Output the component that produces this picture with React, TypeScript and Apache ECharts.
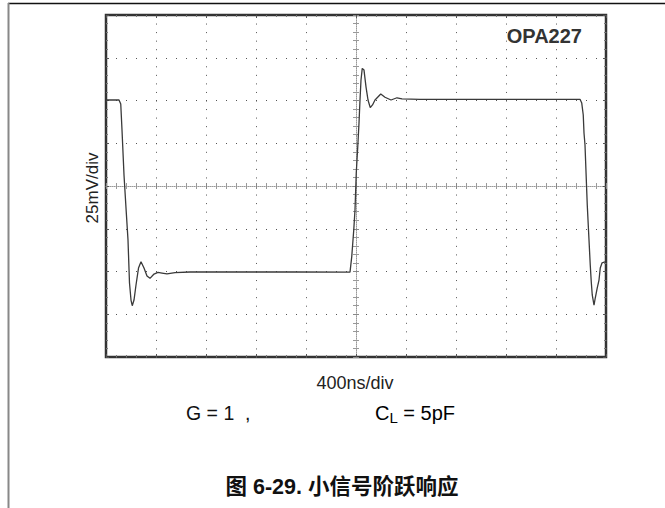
import React, { useEffect, useRef } from "react";
import * as echarts from "echarts";

// time in ns relative to the screen centre (400 ns/div, 10 div)
const timeNs = [
  -2000, -1896, -1882, -1872, -1856, -1840, -1824, -1812, -1800, -1790, -1776, -1760,
  -1740, -1720, -1696, -1672, -1648, -1616, -1584, -1552, -1512, -1448, -1328, -1000,
  -500, -48, -34, -18, -8, 2, 14, 24, 32, 40, 50, 64, 80, 96, 114, 132, 152, 198, 232,
  280, 328, 368, 512, 1000, 1500, 1792, 1806, 1818, 1824, 1832, 1844, 1850, 1858, 1866,
  1874, 1882, 1890, 1904, 1914, 1930, 1944, 1954, 1968, 1992,
];
// output voltage in mV (25 mV/div, 8 div)
const voltageMv = [
  50.3, 50.3, 48, 32.7, 6.4, -12.9, -31.6, -56.7, -66.7, -70, -66.7, -57.9,
  -48, -44.3, -48, -52.6, -54, -51.5, -50.5, -50.9, -51.4, -50.6, -50.3, -50.3,
  -50.3, -50.4, -41.3, -25.7, -14, 7.6, 23, 36.8, 50.3, 62, 68.8, 67.8, 58, 50.3, 45.8,
  47.4, 50.3, 53.8, 51.9, 50.3, 51.6, 50.9, 50.6, 50.6, 50.6, 50.7, 48.5, 41.5, 31,
  24, 0.6, -11, -22.8, -34.5, -46.2, -56, -63.7, -69.6, -65.5, -59.6, -55, -48, -45, -44.4,
];

const xMin = -2000;
const xMax = 2000;
const xStep = 400;
const yMin = -100;
const yMax = 100;
const yStep = 25;

const partLabel = "OPA227";
const yTitle = "25mV/div";
const xTitle = "400ns/div";
const gainText = "G = 1  ,";
const caption = "图 6-29. 小信号阶跃响应";

const FONT = "'Liberation Sans', Arial, sans-serif";

export default function App() {
  const ref = useRef<HTMLDivElement>(null);

  useEffect(() => {
    if (!ref.current) return;
    const chart = echarts.init(ref.current, undefined, { renderer: "svg" });

    const hidden = {
      axisLabel: { show: false },
      splitLine: { show: false },
    };
    const xBase = { type: "value", min: xMin, max: xMax, interval: xStep, ...hidden };
    const yBase = { type: "value", min: yMin, max: yMax, interval: yStep, ...hidden };

    const borderTick = (len: number) => ({
      axisTick: { show: true, inside: true, length: len, lineStyle: { color: "#555", width: 1 } },
      minorTick: { show: true, splitNumber: 5, length: 2, lineStyle: { color: "#777", width: 1 } },
    });
    const centreTick = {
      axisTick: { show: true, inside: false, length: 3, lineStyle: { color: "#888", width: 1 } },
      minorTick: { show: true, splitNumber: 5, length: 3, lineStyle: { color: "#999", width: 1 } },
    };

    const data = timeNs.map((t, i) => [t, voltageMv[i]]);

    chart.setOption({
      animation: false,
      grid: {
        left: 106,
        top: 15,
        width: 500,
        height: 342,
        show: true,
        borderColor: "#333",
        borderWidth: 2.5,
        backgroundColor: "transparent",
      },
      xAxis: [
        {
          ...xBase,
          position: "bottom",
          axisLine: { show: false, onZero: false },
          ...borderTick(3),
          splitLine: { show: true, lineStyle: { color: "#555", width: 1, type: [1, 7.55] } },
        },
        { ...xBase, position: "top", axisLine: { show: false, onZero: false }, ...borderTick(3) },
        {
          ...xBase,
          position: "bottom",
          axisLine: { show: true, onZero: true, onZeroAxisIndex: 0, lineStyle: { color: "#999", width: 1, type: [1, 1] } },
          ...centreTick,
        },
        {
          ...xBase,
          position: "top",
          axisLine: { show: false, onZero: true, onZeroAxisIndex: 0 },
          ...centreTick,
        },
      ],
      yAxis: [
        {
          ...yBase,
          position: "left",
          axisLine: { show: false, onZero: false },
          ...borderTick(3),
          splitLine: { show: true, lineStyle: { color: "#555", width: 1, type: [1, 9] } },
        },
        { ...yBase, position: "right", axisLine: { show: false, onZero: false }, ...borderTick(3) },
        {
          ...yBase,
          position: "left",
          axisLine: { show: true, onZero: true, onZeroAxisIndex: 0, lineStyle: { color: "#999", width: 1, type: [1, 1] } },
          ...centreTick,
        },
        {
          ...yBase,
          position: "right",
          axisLine: { show: false, onZero: true, onZeroAxisIndex: 0 },
          ...centreTick,
        },
      ],
      series: [
        {
          type: "line",
          data,
          xAxisIndex: 0,
          yAxisIndex: 0,
          showSymbol: false,
          symbol: "none",
          smooth: false,
          lineStyle: { color: "#3a3a3a", width: 1.3 },
          z: 5,
        },
      ],
      graphic: [
        { type: "line", shape: { x1: 8, y1: 3.5, x2: 665, y2: 3.5 }, style: { stroke: "#111", lineWidth: 1.5 } },
        { type: "line", shape: { x1: 8.5, y1: 3, x2: 8.5, y2: 508 }, style: { stroke: "#888", lineWidth: 2 } },
        {
          type: "text",
          x: 582,
          y: 36,
          style: { text: partLabel, font: `bold 20px ${FONT}`, fill: "#333", align: "right", verticalAlign: "middle" },
        },
        {
          type: "text",
          x: 92,
          y: 188,
          rotation: Math.PI / 2,
          style: { text: yTitle, font: `17px ${FONT}`, fill: "#222", align: "center", verticalAlign: "middle" },
        },
        {
          type: "text",
          x: 355,
          y: 383,
          style: { text: xTitle, font: `18px ${FONT}`, fill: "#222", align: "center", verticalAlign: "middle" },
        },
        {
          type: "text",
          x: 186,
          y: 413,
          style: { text: gainText, font: `19.5px ${FONT}`, fill: "#111", align: "left", verticalAlign: "middle" },
        },
        {
          type: "text",
          x: 375,
          y: 413,
          style: {
            text: "{a|C}{b|L}{a| = 5pF}",
            align: "left",
            verticalAlign: "middle",
            rich: {
              a: { fontFamily: FONT, fontSize: 20, color: "#111" },
              b: { fontFamily: FONT, fontSize: 15, color: "#111", verticalAlign: "bottom", padding: [9, 0, 0, 0] },
            },
          },
        },
        {
          type: "text",
          x: 342,
          y: 487,
          style: {
            text: caption,
            font: `bold 21.5px 'Liberation Sans', 'Noto Sans CJK SC', sans-serif`,
            fill: "#111",
            align: "center",
            verticalAlign: "middle",
          },
        },
      ],
    });

    return () => chart.dispose();
  }, []);

  return (
    <div
      ref={ref}
      style={{ position: "fixed", left: 0, top: 0, width: 665, height: 508, background: "#fff" }}
    />
  );
}
